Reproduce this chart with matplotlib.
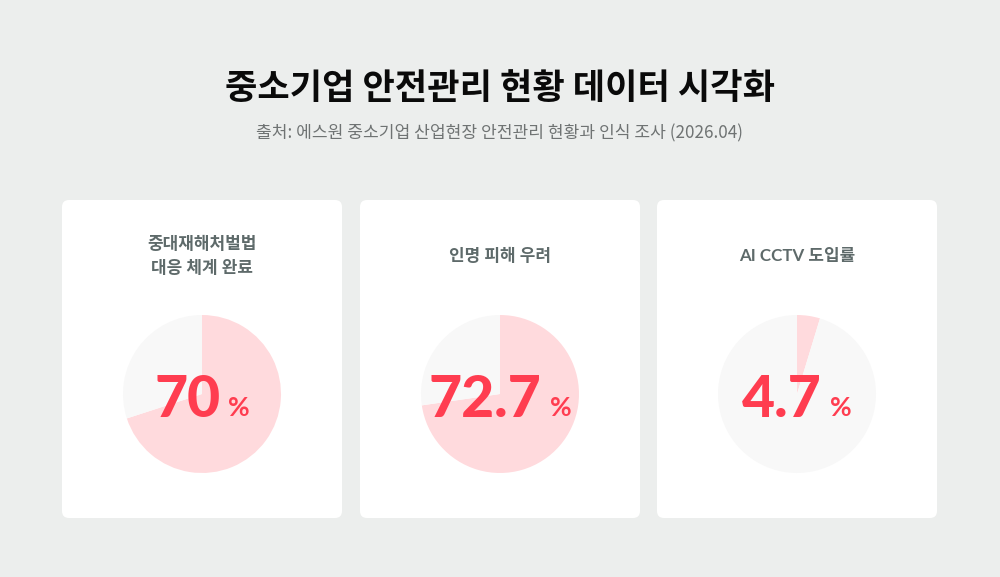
import matplotlib
matplotlib.use("Agg")
import matplotlib.pyplot as plt
from matplotlib.patches import FancyBboxPatch

plt.rcParams['font.family'] = ['Lato', 'Noto Sans CJK KR', 'DejaVu Sans']

title = "중소기업 안전관리 현황 데이터 시각화"
subtitle = "출처: 에스원 중소기업 산업현장 안전관리 현황과 인식 조사 (2026.04)"
card_titles = ["중대재해처벌법\n대응 체계 완료", "인명 피해 우려", "AI CCTV 도입률"]
values = [70, 72.7, 4.7]
value_labels = ["70", "72.7", "4.7"]

W, H = 1000, 577
fig = plt.figure(figsize=(W / 100, H / 100), dpi=100)
fig.patch.set_facecolor("#eceeed")
bg = fig.add_axes([0, 0, 1, 1])
bg.set_xlim(0, W)
bg.set_ylim(H, 0)
bg.axis("off")

KR = ['Noto Sans CJK KR', 'DejaVu Sans']
bg.text(500, 89, title, ha="center", va="center", fontsize=25.3, fontweight="black",
        color="#0a0a0a", family=KR)
bg.text(500, 133, subtitle, ha="center", va="center", fontsize=12.3,
        color="#6f7373", family=KR)

card_x = [62, 360, 657]
card_w, card_top, card_h = 280, 200, 318
pie_cy, pie_r = 394, 79
PINK, GREY, RED = "#ffdadd", "#f8f8f8", "#ff3d50"

fig.canvas.draw()
renderer = fig.canvas.get_renderer()

for i in range(3):
    x0 = card_x[i]
    card = FancyBboxPatch((x0, card_top), card_w, card_h,
                          boxstyle="round,pad=0,rounding_size=7",
                          fc="white", ec="none", zorder=1)
    bg.add_patch(card)
    cx = x0 + card_w / 2
    bg.text(cx, 256, card_titles[i], ha="center", va="center", fontsize=12.2,
            fontweight="bold", color="#5e6a6a", linespacing=1.6,
            family=['Lato', 'Noto Sans CJK KR'], zorder=3)

    pax = fig.add_axes([(cx - pie_r) / W, (H - pie_cy - pie_r) / H,
                        2 * pie_r / W, 2 * pie_r / H])
    pax.pie([values[i], 100 - values[i]], colors=[PINK, GREY], startangle=90,
            counterclock=False, radius=1, wedgeprops=dict(linewidth=0))
    pax.set_xlim(-1, 1)
    pax.set_ylim(-1, 1)
    pax.set_aspect("equal")
    pax.axis("off")

# number labels drawn on a top overlay
top = fig.add_axes([0, 0, 1, 1])
top.set_xlim(0, W)
top.set_ylim(H, 0)
top.axis("off")
top.patch.set_alpha(0)
gap = 8
for i in range(3):
    cx = card_x[i] + card_w / 2
    t1 = top.text(0, 417, value_labels[i], ha="left", va="baseline", fontsize=41,
                  fontweight="black", color=RED, family=['Lato', 'DejaVu Sans'])
    t2 = top.text(0, 416, "%", ha="left", va="baseline", fontsize=19,
                  fontweight="bold", color=RED, family=['Lato', 'DejaVu Sans'])
    w1 = t1.get_window_extent(renderer).width
    w2 = t2.get_window_extent(renderer).width
    total = w1 + gap + w2
    start = cx - total / 2
    t1.set_x(start)
    t2.set_x(start + w1 + gap)

fig.savefig("out.png", dpi=100, facecolor=fig.get_facecolor())
